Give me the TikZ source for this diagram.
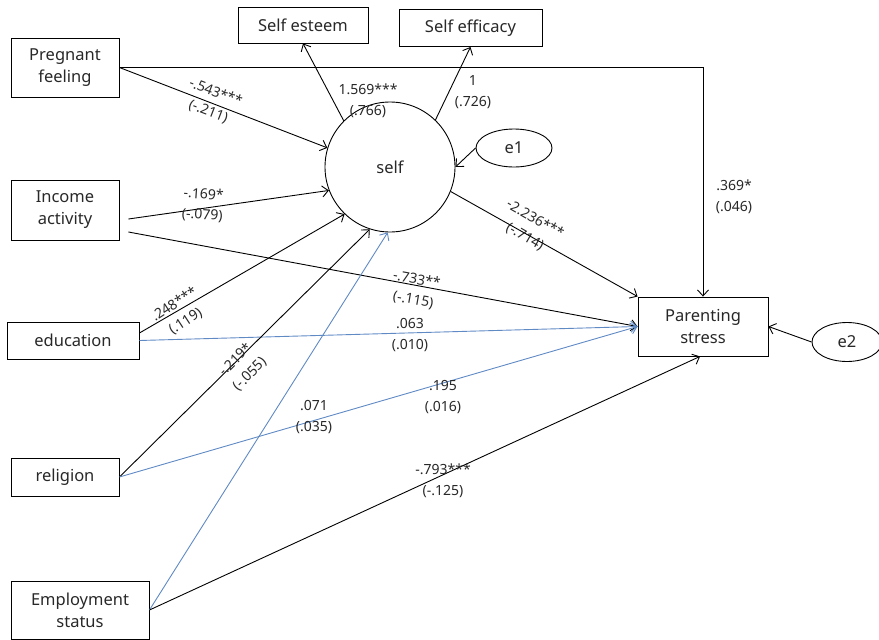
\documentclass[tikz,border=0pt]{standalone}
\usepackage{fontspec}
\setmainfont{Noto Sans}
\usetikzlibrary{arrows.meta,shapes.geometric,calc}
\definecolor{bl}{RGB}{95,138,196}
\definecolor{tx}{RGB}{40,40,40}
\begin{document}
\begin{tikzpicture}[x=1pt,y=-1pt,
  box/.style={draw,line width=0.9pt,inner sep=0pt,align=center,font=\fontsize{16.5}{22}\selectfont,text=tx},
  ell/.style={draw,ellipse,line width=0.9pt,inner sep=0pt,font=\fontsize{16.5}{22}\selectfont,text=tx},
  arr/.style={line width=0.9pt,-{Straight Barb[length=6pt,width=11pt]}},
  barr/.style={arr,draw=bl},
  lab/.style={align=center,font=\fontsize{14}{20.5}\selectfont,text=tx,inner sep=0pt}]
\useasboundingbox (0,0) rectangle (879,640);
% nodes
\node[box,minimum width=108,minimum height=59] (pf) at (65,67.5) {Pregnant\\feeling};
\node[box,minimum width=130,minimum height=36] (se) at (303,25) {Self esteem};
\node[box,minimum width=143,minimum height=37] (sf) at (470.5,28) {Self efficacy};
\node[box,minimum width=108,minimum height=60] (ia) at (65,210) {Income\\activity};
\node[box,minimum width=132,minimum height=37] (ed) at (73,340.5) {education};
\node[box,minimum width=108,minimum height=38] (re) at (65,477) {religion};
\node[box,minimum width=138,minimum height=58] (em) at (80,610) {Employment\\status};
\node[box,minimum width=130,minimum height=59] (ps) at (703,326.5) {Parenting\\stress};
\node[draw,circle,line width=0.9pt,minimum size=130,inner sep=0pt,font=\fontsize{16.5}{22}\selectfont,text=tx] (self) at (390,167) {self};
\node[ell,minimum width=76,minimum height=38] (e1) at (514,148) {e1};
\node[ell,minimum width=70,minimum height=39] (e2) at (847,342) {e2};
% connectors
\draw[arr] (pf.east) -- (self.163);
\draw[arr] (pf.east) -| (ps.north);
\draw[arr] (self.135) -- (se.south);
\draw[arr] (self.46) -- (sf.south);
\draw[arr] (e1.west) -- (self.east);
\draw[arr] (self.-22) -- (ps.north west);
\draw[arr] ([shift={(9,9)}]ia.east) -- (self.201);
\draw[arr] ([shift={(9,22)}]ia.east) -- (ps.west);
\draw[arr] ([yshift=7.5]ed.east) -- (self.226);
\draw[barr] (ed.east) -- (ps.west);
\draw[arr] (re.east) -- (self.252);
\draw[barr] (re.east) -- (ps.west);
\draw[barr] (em.east) -- (self.268);
\draw[arr] (em.east) -- ([xshift=-3]ps.south);
\draw[arr] (e2.west) -- (ps.east);
% labels
\node[lab,rotate=-21] (l1) at (212,102) {-.543***\\(-.211)};
\node[lab] (l2) at (368,101) {1.569***\\(.766)};
\node[lab] (l3) at (473,92) {1\\(.726)};
\node[lab] (l4) at (734,197) {.369*\\(.046)};
\node[lab,rotate=-30] (l5) at (530,228) {-2.236***\\(-.714)};
\node[lab,rotate=-4] (l6) at (203,205) {-.169*\\(-.079)};
\node[lab,rotate=-10] (l7) at (415,290) {-.733**\\(-.115)};
\node[lab,rotate=33] (l8) at (180,313) {.248***\\(.119)};
\node[lab] (l9) at (410,335) {.063\\(.010)};
\node[lab,rotate=45] (l10) at (243,367) {-.219*\\(-.055)};
\node[lab] (l11) at (314,417) {.071\\(.035)};
\node[lab] (l12) at (443,397) {.195\\(.016)};
\node[lab] (l13) at (443,481) {-.793***\\(-.125)};
\end{tikzpicture}
\end{document}
